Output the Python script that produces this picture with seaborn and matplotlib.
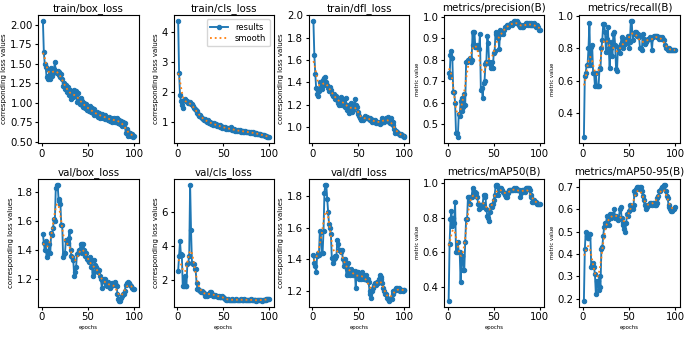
import numpy as np
import matplotlib
matplotlib.use("Agg")
import matplotlib.pyplot as plt
from matplotlib.ticker import MultipleLocator
import seaborn as sns

# epochs 1..100
epochs = list(range(1, 101))

titles = ["train/box_loss", "train/cls_loss", "train/dfl_loss",
          "metrics/precision(B)", "metrics/recall(B)",
          "val/box_loss", "val/cls_loss", "val/dfl_loss",
          "metrics/mAP50(B)", "metrics/mAP50-95(B)"]

train_box_loss = [
    2.05, 1.65, 1.50, 1.46, 1.33, 1.35, 1.31, 1.42, 1.30, 1.45,
    1.34, 1.38, 1.43, 1.52, 1.40, 1.38, 1.41, 1.36, 1.40, 1.33,
    1.37, 1.30, 1.22, 1.26, 1.18, 1.23, 1.14, 1.20, 1.10, 1.16,
    1.12, 1.05, 1.12, 1.07, 1.17, 1.09, 1.15, 1.01, 1.13, 1.05,
    0.98, 1.06, 0.97, 1.03, 0.95, 1.00, 0.93, 0.98, 0.91, 0.95,
    0.90, 0.96, 0.88, 0.93, 0.87, 0.85, 0.92, 0.86, 0.84, 0.88,
    0.82, 0.87, 0.81, 0.84, 0.86, 0.80, 0.83, 0.85, 0.79, 0.81,
    0.80, 0.78, 0.82, 0.77, 0.80, 0.76, 0.78, 0.81, 0.75, 0.79,
    0.76, 0.81, 0.74, 0.78, 0.73, 0.77, 0.71, 0.76, 0.72, 0.74,
    0.62, 0.66, 0.58, 0.63, 0.59, 0.62, 0.57, 0.60, 0.56, 0.58]

train_cls_loss = [
    4.38, 2.65, 1.90, 1.70, 1.55, 1.45, 1.72, 1.75, 1.70, 1.68,
    1.70, 1.62, 1.63, 1.65, 1.60, 1.58, 1.52, 1.45, 1.42, 1.40,
    1.35, 1.30, 1.25, 1.20, 1.22, 1.15, 1.12, 1.10, 1.05, 1.08,
    1.02, 1.00, 1.05, 0.98, 0.95, 1.00, 0.92, 0.96, 0.90, 0.95,
    0.88, 0.92, 0.86, 0.90, 0.85, 0.88, 0.82, 0.86, 0.80, 0.83,
    0.78, 0.82, 0.76, 0.80, 0.75, 0.78, 0.74, 0.82, 0.72, 0.76,
    0.72, 0.75, 0.70, 0.73, 0.69, 0.72, 0.68, 0.71, 0.67, 0.70,
    0.66, 0.69, 0.66, 0.68, 0.65, 0.67, 0.64, 0.66, 0.63, 0.65,
    0.62, 0.64, 0.61, 0.63, 0.60, 0.62, 0.59, 0.60, 0.58, 0.59,
    0.57, 0.56, 0.55, 0.54, 0.53, 0.52, 0.51, 0.50, 0.49, 0.48]

train_dfl_loss = [
    1.95, 1.65, 1.48, 1.35, 1.30, 1.28, 1.32, 1.40, 1.36, 1.34,
    1.42, 1.38, 1.44, 1.45, 1.40, 1.38, 1.35, 1.32, 1.36, 1.33,
    1.30, 1.28, 1.30, 1.25, 1.27, 1.28, 1.24, 1.22, 1.20, 1.22,
    1.27, 1.20, 1.25, 1.22, 1.18, 1.26, 1.20, 1.15, 1.18, 1.13,
    1.16, 1.22, 1.14, 1.15, 1.18, 1.25, 1.20, 1.18, 1.14, 1.12,
    1.10, 1.08, 1.06, 1.07, 1.06, 1.08, 1.10, 1.08, 1.09, 1.08,
    1.07, 1.08, 1.06, 1.07, 1.05, 1.06, 1.05, 1.06, 1.04, 1.05,
    1.04, 1.05, 1.03, 1.04, 1.05, 1.08, 1.06, 1.05, 1.06, 1.08,
    1.06, 1.09, 1.05, 1.04, 1.08, 1.03, 1.05, 1.02, 0.98, 0.95,
    0.97, 0.96, 0.95, 0.94, 0.93, 0.94, 0.93, 0.92, 0.92, 0.91]

precision = [
    0.74, 0.72, 0.82, 0.84, 0.81, 0.65, 0.65, 0.60, 0.46, 0.46,
    0.44, 0.55, 0.54, 0.61, 0.62, 0.56, 0.58, 0.64, 0.59, 0.79,
    0.79, 0.80, 0.80, 0.81, 0.79, 0.80, 0.93, 0.87, 0.93, 0.86,
    0.86, 0.87, 0.86, 0.85, 0.92, 0.66, 0.67, 0.62, 0.69, 0.70,
    0.78, 0.79, 0.91, 0.88, 0.79, 0.78, 0.76, 0.79, 0.76, 0.83,
    0.84, 0.93, 0.92, 0.91, 0.90, 0.85, 0.94, 0.92, 0.93, 0.92,
    0.94, 0.95, 0.95, 0.96, 0.96, 0.95, 0.96, 0.96, 0.97, 0.96,
    0.97, 0.98, 0.98, 0.97, 0.98, 0.97, 0.96, 0.96, 0.95, 0.96,
    0.95, 0.95, 0.96, 0.96, 0.97, 0.97, 0.96, 0.97, 0.96, 0.96,
    0.97, 0.96, 0.96, 0.97, 0.96, 0.95, 0.96, 0.95, 0.94, 0.94]

recall = [
    0.25, 0.63, 0.65, 0.70, 0.70, 0.80, 0.96, 0.70, 0.81, 0.82,
    0.65, 0.65, 0.57, 0.65, 0.57, 0.57, 0.57, 0.68, 0.67, 0.80,
    0.85, 0.95, 0.95, 0.90, 0.78, 0.86, 0.93, 0.80, 0.68, 0.80,
    0.84, 0.75, 0.89, 0.90, 0.82, 0.67, 0.66, 0.81, 0.80, 0.77,
    0.83, 0.87, 0.82, 0.80, 0.85, 0.83, 0.86, 0.84, 0.88, 0.80,
    0.84, 0.97, 0.97, 0.85, 0.89, 0.89, 0.90, 0.90, 0.88, 0.89,
    0.87, 0.80, 0.80, 0.79, 0.89, 0.86, 0.83, 0.85, 0.84, 0.85,
    0.86, 0.86, 0.87, 0.86, 0.79, 0.87, 0.88, 0.88, 0.88, 0.87,
    0.88, 0.87, 0.86, 0.87, 0.86, 0.87, 0.86, 0.85, 0.82, 0.80,
    0.80, 0.79, 0.79, 0.80, 0.79, 0.79, 0.79, 0.79, 0.79, 0.79]

val_box_loss = [
    1.51, 1.45, 1.40, 1.46, 1.35, 1.39, 1.38, 1.44, 1.38, 1.52,
    1.50, 1.55, 1.61, 1.60, 1.83, 1.85, 1.85, 1.75, 1.74, 1.72,
    1.57, 1.57, 1.35, 1.37, 1.38, 1.47, 1.46, 1.45, 1.48, 1.53,
    1.40, 1.36, 1.35, 1.33, 1.22, 1.25, 1.28, 1.37, 1.38, 1.40,
    1.40, 1.44, 1.44, 1.38, 1.44, 1.40, 1.36, 1.38, 1.34, 1.33,
    1.32, 1.35, 1.28, 1.33, 1.22, 1.25, 1.33, 1.30, 1.28, 1.27,
    1.25, 1.26, 1.22, 1.20, 1.14, 1.19, 1.20, 1.18, 1.20, 1.16,
    1.15, 1.18, 1.16, 1.14, 1.15, 1.17, 1.16, 1.17, 1.18, 1.16,
    1.15, 1.10, 1.06, 1.05, 1.05, 1.07, 1.08, 1.10, 1.10, 1.12,
    1.16, 1.17, 1.18, 1.17, 1.17, 1.16, 1.15, 1.14, 1.13, 1.13]

val_cls_loss = [
    2.50, 3.40, 4.25, 3.50, 3.45, 1.60, 1.60, 2.20, 1.60, 1.60,
    2.95, 3.00, 3.40, 7.60, 4.90, 3.00, 2.95, 2.90, 2.60, 2.60,
    1.80, 1.45, 1.45, 1.40, 1.35, 1.30, 1.35, 1.25, 1.20, 1.05,
    1.10, 1.05, 1.15, 1.10, 1.15, 1.30, 1.28, 1.15, 1.05, 1.05,
    1.10, 1.05, 1.05, 1.00, 1.05, 1.00, 1.00, 0.95, 1.05, 1.00,
    0.90, 0.85, 0.82, 0.80, 0.85, 0.80, 0.82, 0.80, 0.80, 0.85,
    0.82, 0.80, 0.80, 0.85, 0.82, 0.80, 0.80, 0.82, 0.85, 0.80,
    0.80, 0.80, 0.85, 0.82, 0.80, 0.80, 0.80, 0.78, 0.80, 0.85,
    0.82, 0.80, 0.80, 0.78, 0.80, 0.75, 0.78, 0.80, 0.80, 0.82,
    0.78, 0.76, 0.80, 0.82, 0.80, 0.82, 0.85, 0.85, 0.85, 0.85]

val_dfl_loss = [
    1.43, 1.38, 1.36, 1.32, 1.42, 1.44, 1.43, 1.58, 1.57, 1.44,
    1.44, 1.58, 1.82, 1.87, 1.87, 1.78, 1.70, 1.62, 1.60, 1.56,
    1.41, 1.38, 1.40, 1.41, 1.42, 1.42, 1.52, 1.50, 1.46, 1.46,
    1.45, 1.46, 1.40, 1.36, 1.40, 1.36, 1.30, 1.34, 1.38, 1.32,
    1.30, 1.34, 1.33, 1.30, 1.32, 1.33, 1.22, 1.32, 1.30, 1.32,
    1.28, 1.30, 1.28, 1.32, 1.30, 1.28, 1.28, 1.30, 1.27, 1.28,
    1.26, 1.20, 1.18, 1.16, 1.20, 1.22, 1.24, 1.25, 1.24, 1.26,
    1.25, 1.28, 1.30, 1.28, 1.29, 1.25, 1.22, 1.20, 1.18, 1.18,
    1.16, 1.15, 1.14, 1.15, 1.16, 1.15, 1.18, 1.20, 1.20, 1.21,
    1.22, 1.22, 1.21, 1.22, 1.20, 1.21, 1.21, 1.20, 1.21, 1.21]

map50 = [
    0.32, 0.65, 0.79, 0.84, 0.75, 0.80, 0.77, 0.89, 0.60, 0.60,
    0.66, 0.60, 0.60, 0.43, 0.58, 0.58, 0.50, 0.50, 0.66, 0.79,
    0.79, 0.92, 0.92, 0.88, 0.92, 0.92, 0.97, 0.93, 0.94, 0.95,
    0.94, 0.92, 0.88, 0.85, 0.87, 0.86, 0.86, 0.88, 0.93, 0.93,
    0.92, 0.85, 0.81, 0.80, 0.78, 0.83, 0.87, 0.86, 0.88, 0.90,
    0.93, 0.98, 0.99, 0.99, 0.93, 0.96, 0.97, 0.97, 0.96, 0.95,
    0.94, 0.93, 0.92, 0.92, 0.95, 0.94, 0.96, 0.96, 0.96, 0.96,
    0.96, 0.97, 0.96, 0.97, 0.96, 0.96, 0.96, 0.96, 0.92, 0.94,
    0.96, 0.96, 0.96, 0.95, 0.97, 0.97, 0.97, 0.97, 0.96, 0.92,
    0.93, 0.89, 0.89, 0.90, 0.89, 0.89, 0.88, 0.88, 0.88, 0.88]

map50_95 = [
    0.19, 0.42, 0.50, 0.48, 0.47, 0.47, 0.49, 0.49, 0.34, 0.35,
    0.36, 0.34, 0.31, 0.22, 0.28, 0.28, 0.24, 0.30, 0.25, 0.42,
    0.43, 0.48, 0.52, 0.54, 0.53, 0.57, 0.55, 0.53, 0.58, 0.57,
    0.56, 0.58, 0.57, 0.60, 0.56, 0.57, 0.56, 0.55, 0.56, 0.60,
    0.61, 0.56, 0.53, 0.54, 0.51, 0.50, 0.54, 0.58, 0.57, 0.59,
    0.62, 0.60, 0.61, 0.60, 0.62, 0.68, 0.67, 0.69, 0.70, 0.70,
    0.69, 0.70, 0.70, 0.68, 0.66, 0.64, 0.62, 0.61, 0.60, 0.61,
    0.62, 0.62, 0.63, 0.63, 0.62, 0.63, 0.63, 0.62, 0.62, 0.63,
    0.65, 0.66, 0.68, 0.68, 0.69, 0.70, 0.70, 0.71, 0.71, 0.68,
    0.66, 0.65, 0.62, 0.61, 0.60, 0.59, 0.59, 0.60, 0.60, 0.61]

series = [train_box_loss, train_cls_loss, train_dfl_loss, precision, recall,
          val_box_loss, val_cls_loss, val_dfl_loss, map50, map50_95]

# y tick spacing per panel, as in the reference
ytick_steps = [0.25, 1, 0.2, 0.1, 0.2, 0.2, 2, 0.2, 0.2, 0.1]


def gaussian_smooth(y, sigma=3.0):
    # same idea as scipy gaussian_filter1d (reflect mode, truncate=4)
    y = np.asarray(y, dtype=float)
    r = int(4 * sigma + 0.5)
    k = np.exp(-0.5 * (np.arange(-r, r + 1) / sigma) ** 2)
    k /= k.sum()
    yp = np.pad(y, r, mode="symmetric")
    return np.convolve(yp, k, mode="valid")


fig, axes = plt.subplots(2, 5, figsize=(6.85, 3.37), dpi=100)
fig.subplots_adjust(left=0.056, right=0.992, top=0.955, bottom=0.09,
                    wspace=0.35, hspace=0.28)
axes = axes.ravel()

for i, ax in enumerate(axes):
    y = series[i]
    sns.lineplot(x=epochs, y=y, ax=ax, marker=".", markersize=6.3,
                 linewidth=1.35, color="C0", markeredgecolor="C0",
                 label="results", legend=False)
    sns.lineplot(x=epochs, y=gaussian_smooth(y), ax=ax, linestyle=":",
                 linewidth=1.3, color="C1", label="smooth", legend=False)

    ax.set_title(titles[i], fontsize=7.4, pad=3)
    ax.set_xticks([0, 50, 100])
    ax.yaxis.set_major_locator(MultipleLocator(ytick_steps[i]))
    ax.tick_params(labelsize=7.3, length=2.5, pad=1.5)

    if "loss" in titles[i]:
        ax.set_ylabel("corresponding loss values", fontsize=5.0, labelpad=2)
    else:
        ax.set_ylabel("metric value", fontsize=3.8, labelpad=2)

    if i >= 5:
        ax.set_xlabel("epochs", fontsize=3.9, labelpad=2)

# legend only on the second panel
axes[1].legend(fontsize=6, loc="upper right", handlelength=2.2,
               borderpad=0.4, labelspacing=0.3)

plt.savefig("out.png", dpi=100)
